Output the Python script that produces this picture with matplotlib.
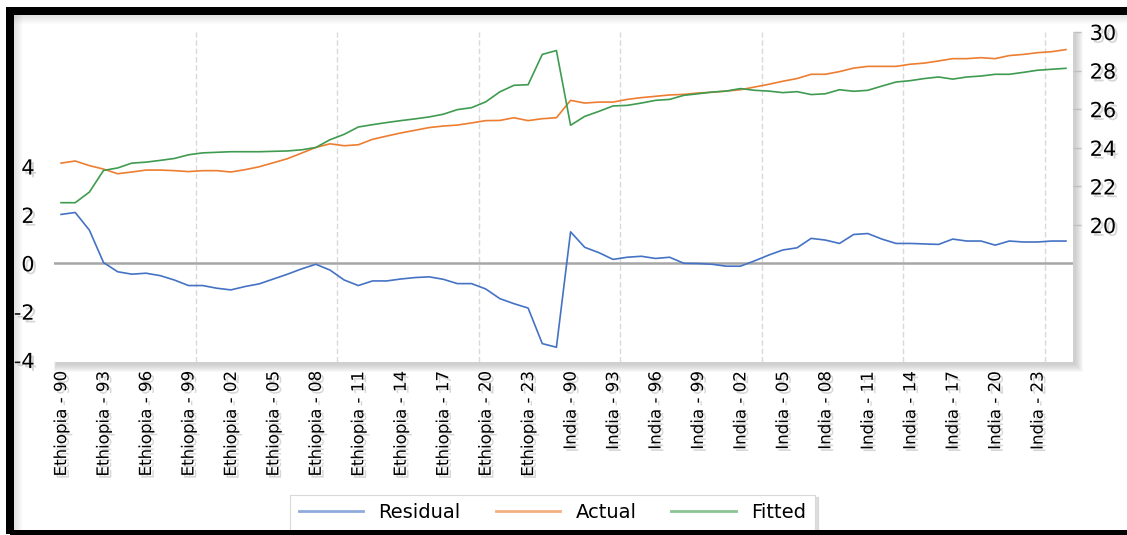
import matplotlib
matplotlib.use("Agg")
import matplotlib.pyplot as plt
import matplotlib.patheffects as pe
from matplotlib.lines import Line2D
from matplotlib.patches import Rectangle
import numpy as np

W, H = 1127, 535

YEARS = ["90", "91", "92", "93", "94", "95", "96", "97", "98", "99",
         "00", "01", "02", "03", "04", "05", "06", "07", "08", "09",
         "10", "11", "12", "13", "14", "15", "16", "17", "18", "19",
         "20", "21", "22", "23", "24", "25"]
COUNTRIES = ["Ethiopia", "India"]
CATEGORIES = [f"{c} - {y}" for c in COUNTRIES for y in YEARS]

# left axis
RESIDUAL = [2.02, 2.10, 1.37, 0.03, -0.35, -0.45, -0.41, -0.51, -0.69, -0.92,
            -0.92, -1.03, -1.10, -0.96, -0.85, -0.65, -0.45, -0.23, -0.04, -0.28,
            -0.69, -0.92, -0.73, -0.73, -0.65, -0.59, -0.56, -0.66, -0.84, -0.84,
            -1.06, -1.46, -1.67, -1.85, -3.32, -3.47,
            1.30, 0.66, 0.44, 0.16, 0.25, 0.29, 0.20, 0.25, 0.00, -0.01,
            -0.04, -0.12, -0.12, 0.10, 0.34, 0.55, 0.64, 1.03, 0.96, 0.82,
            1.19, 1.23, 1.00, 0.82, 0.82, 0.80, 0.78, 1.00, 0.92, 0.92,
            0.75, 0.92, 0.88, 0.88, 0.92, 0.92]

# right axis
ACTUAL = [23.21, 23.32, 23.08, 22.90, 22.66, 22.75, 22.85, 22.85, 22.82, 22.77,
          22.82, 22.82, 22.75, 22.87, 23.02, 23.23, 23.44, 23.73, 24.02, 24.21,
          24.11, 24.16, 24.44, 24.61, 24.77, 24.91, 25.05, 25.13, 25.18, 25.29,
          25.41, 25.42, 25.56, 25.41, 25.51, 25.56,
          26.46, 26.32, 26.37, 26.37, 26.51, 26.60, 26.67, 26.74, 26.77, 26.84,
          26.88, 26.94, 27.01, 27.15, 27.29, 27.45, 27.59, 27.81, 27.81, 27.95,
          28.13, 28.22, 28.22, 28.22, 28.33, 28.39, 28.50, 28.62, 28.62, 28.67,
          28.62, 28.78, 28.84, 28.93, 28.98, 29.09]

FITTED = [21.16, 21.16, 21.71, 22.83, 22.96, 23.21, 23.26, 23.35, 23.45, 23.64,
          23.74, 23.77, 23.80, 23.80, 23.80, 23.82, 23.84, 23.90, 24.02, 24.42,
          24.70, 25.08, 25.20, 25.31, 25.41, 25.50, 25.60, 25.74, 25.98, 26.08,
          26.38, 26.90, 27.24, 27.27, 28.84, 29.04,
          25.17, 25.63, 25.89, 26.17, 26.20, 26.32, 26.46, 26.51, 26.72, 26.80,
          26.89, 26.94, 27.07, 26.98, 26.94, 26.86, 26.91, 26.76, 26.80, 27.01,
          26.93, 26.98, 27.20, 27.41, 27.48, 27.59, 27.67, 27.56, 27.67, 27.72,
          27.81, 27.81, 27.91, 28.02, 28.07, 28.12]

LEFT_TICKS = [-4, -2, 0, 2, 4]
RIGHT_TICKS = [20, 22, 24, 26, 28, 30]

C_RES, C_ACT, C_FIT = "#4472C4", "#ED7D31", "#3E9B4F"

plt.rcParams["font.family"] = ["DejaVu Sans"]
plt.rcParams["axes.unicode_minus"] = False

shadow_fx = [pe.SimplePatchShadow(offset=(2, -2), shadow_rgbFace="#8c8c8c", alpha=0.35),
             pe.Normal()]


def fx(x0, y0, x1, y1):
    # pixel box (top-down y) -> figure fraction rect args
    return (x0 / W, 1 - y1 / H), (x1 - x0) / W, (y1 - y0) / H


fig = plt.figure(figsize=(W / 100, H / 100), dpi=100)
fig.patch.set_facecolor("white")

# soft shadow under the plot area
for k in range(8):
    xy, w, h = fx(54 + 2 - k * 0.3, 32 + 2 - k * 0.3, 1073 + 3 + k, 362 + 3 + k)
    fig.add_artist(Rectangle(xy, w, h, transform=fig.transFigure, facecolor="#7f7f7f",
                             edgecolor="none", alpha=0.05, zorder=-5))

ax = fig.add_axes([54 / W, 1 - 362 / H, (1073 - 54) / W, (362 - 32) / H])
ax2 = ax.twinx()
ax.set_zorder(1)
ax2.set_zorder(2)
ax.patch.set_facecolor("white")
ax2.patch.set_visible(False)

x = np.arange(len(CATEGORIES))

ax.axhline(0, color="#A6A6A6", lw=1.8, zorder=1)
for b in np.arange(9.5, len(CATEGORIES), 10):
    ax.axvline(b, color="#DADADA", lw=1.0, ls=(0, (4, 2)), zorder=0)

ax.plot(x, RESIDUAL, color=C_RES, lw=1.2, zorder=3)
ax2.plot(x, ACTUAL, color=C_ACT, lw=1.2)
ax2.plot(x, FITTED, color=C_FIT, lw=1.2)

ax.set_xlim(-0.5, len(CATEGORIES) - 0.5)
ax.set_ylim(-4.08, 9.56)
ax2.set_ylim(12.91, 29.98)

ax.set_yticks(LEFT_TICKS)
ax.set_yticklabels([str(v) for v in LEFT_TICKS])
ax2.set_yticks(RIGHT_TICKS)
ax2.set_yticklabels([str(v) for v in RIGHT_TICKS])

tick_pos = x[::3]
ax.set_xticks(tick_pos)
ax.set_xticklabels([CATEGORIES[i] for i in tick_pos], rotation=90, fontsize=12)

ax.tick_params(axis="x", length=0, pad=7)
ax.tick_params(axis="y", length=0, pad=14, labelsize=15)
ax2.tick_params(axis="y", length=6, width=1, color="#BFBFBF", pad=6, labelsize=15)

for a in (ax, ax2):
    for s in a.spines.values():
        s.set_visible(False)
    for lab in a.get_xticklabels() + a.get_yticklabels():
        lab.set_path_effects(shadow_fx)

handles = [Line2D([], [], color=c, lw=2, alpha=0.6) for c in (C_RES, C_ACT, C_FIT)]
leg = fig.legend(handles, ["Residual", "Actual", "Fitted"], loc="lower left",
                 bbox_to_anchor=(290 / W, 1 - 531 / H), ncol=3, fontsize=14,
                 frameon=True, fancybox=False, edgecolor="#D9D9D9",
                 handlelength=3.3, handletextpad=0.8, columnspacing=1.8,
                 borderpad=0.45, borderaxespad=0,
                 shadow={"color": "#bfbfbf", "alpha": 0.5})
leg.get_frame().set_linewidth(0.8)

# inner shading along the top and left edge of the frame
for k in range(9):
    a_ = 0.22 * (1 - k / 9)
    xy, w, h = fx(14 + k, 15, 15 + k, 530)
    fig.add_artist(Rectangle(xy, w, h, transform=fig.transFigure, facecolor="#808080",
                             edgecolor="none", alpha=a_, zorder=8))
    xy, w, h = fx(14, 15 + k, W, 16 + k)
    fig.add_artist(Rectangle(xy, w, h, transform=fig.transFigure, facecolor="#808080",
                             edgecolor="none", alpha=a_, zorder=8))

# black outer frame
xy, w, h = fx(10, 11, W + 20, 534)
fig.add_artist(Rectangle(xy, w, h, transform=fig.transFigure, fill=False,
                         edgecolor="black", lw=8 * 0.72, zorder=10))

fig.savefig("out.png", dpi=100, facecolor="white")
